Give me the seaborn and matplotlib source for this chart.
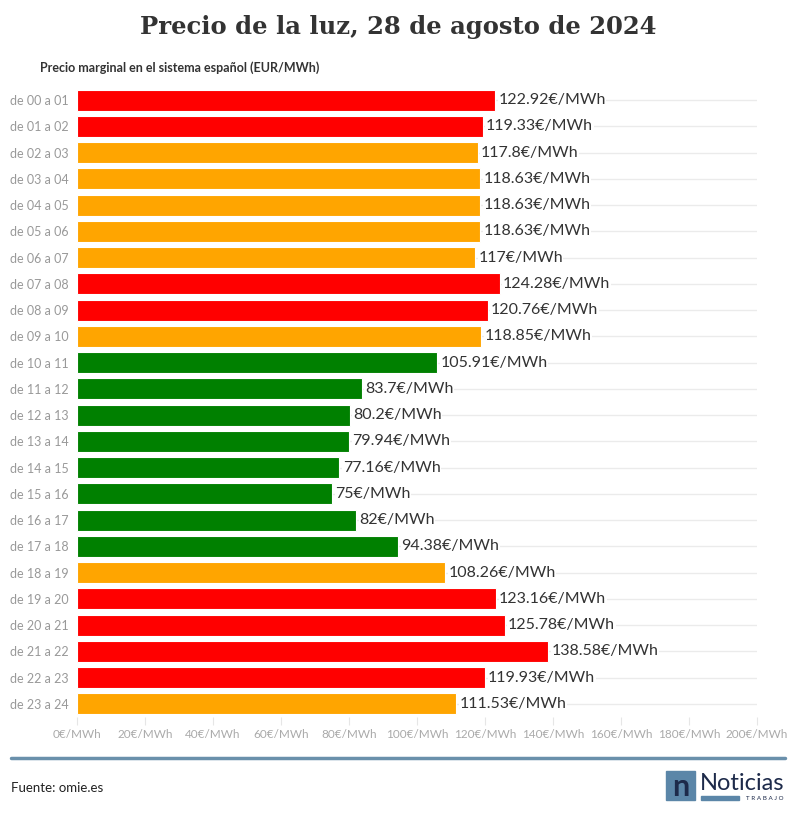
import matplotlib
matplotlib.use("Agg")
import matplotlib.pyplot as plt
import matplotlib.patches as mpatches
import seaborn as sns
import pandas as pd

# Datos
horas = [f"de {h:02d} a {h + 1:02d}" for h in range(24)]
precios = [122.92, 119.33, 117.8, 118.63, 118.63, 118.63, 117, 124.28, 120.76, 118.85,
           105.91, 83.7, 80.2, 79.94, 77.16, 75, 82, 94.38, 108.26, 123.16,
           125.78, 138.58, 119.93, 111.53]
niveles = ["alto", "alto", "medio", "medio", "medio", "medio", "medio", "alto", "alto", "medio",
           "bajo", "bajo", "bajo", "bajo", "bajo", "bajo", "bajo", "bajo", "medio", "alto",
           "alto", "alto", "alto", "medio"]
ticks_x = [0, 20, 40, 60, 80, 100, 120, 140, 160, 180, 200]

paleta = {"alto": "#ff0000", "medio": "#ffa500", "bajo": "#008000"}

df = pd.DataFrame({"hora": horas, "precio": precios, "nivel": niveles})

sns.set_style("white")
plt.rcParams["font.family"] = ["Lato", "DejaVu Sans"]

fig = plt.figure(figsize=(7.96, 8.17), dpi=100)
W, H = 796, 817
ax = fig.add_axes([77 / W, 1 - 717 / H, 680 / W, 630 / H])

# lineas guia horizontales
for i in range(len(horas)):
    ax.axhline(i, color="#ebebeb", lw=1, zorder=0)

sns.barplot(data=df, x="precio", y="hora", hue="nivel", palette=paleta, saturation=1,
            dodge=False, legend=False, width=0.8, edgecolor="white", linewidth=0.8,
            ax=ax, zorder=2)

for i, v in enumerate(precios):
    ax.text(v + 1, i, f"{v:g}€/MWh", va="center", ha="left", fontsize=11.5,
            color="#333333", zorder=3,
            bbox=dict(facecolor="white", edgecolor="none", pad=0.5))

ax.set_xlim(0, 200)
ax.set_ylim(len(horas) - 0.5, -0.5)
ax.set_xticks(ticks_x)
ax.set_xticklabels([f"{t}€/MWh" for t in ticks_x], fontsize=8.5, color="#aaaaaa")
ax.tick_params(axis="y", labelsize=9, colors="#999999", length=0, pad=6)
ax.tick_params(axis="x", length=6, color="#e6e6e6", pad=3, direction="out", bottom=True)
ax.set_xlabel("")
ax.set_ylabel("")
for s in ax.spines.values():
    s.set_visible(False)

# titulo y subtitulo
fig.text(398 / W, 1 - 27 / H, "Precio de la luz, 28 de agosto de 2024", ha="center", va="center",
         fontsize=17.5, fontweight="bold", color="#333333", family=["DejaVu Serif"])
fig.text(40 / W, 1 - 68 / H, "Precio marginal en el sistema español (EUR/MWh)", ha="left",
         va="center", fontsize=9, fontweight="bold", color="#333333")

# linea inferior y fuente
fig.add_artist(plt.Line2D([11 / W, 785 / W], [1 - 758 / H, 1 - 758 / H],
                          color="#6a90ab", lw=2.5))
fig.text(11 / W, 1 - 788 / H, "Fuente: omie.es", ha="left", va="center", fontsize=9.5,
         color="#222222")

# logo
fig.add_artist(mpatches.Rectangle((666 / W, 1 - 800 / H), 29 / W, 29 / H,
                                  transform=fig.transFigure, color="#5b86a8"))
fig.text(680.5 / W, 1 - 787 / H, "n", ha="center", va="center", fontsize=22,
         fontweight="bold", color="#1d2a4a")
fig.text(700 / W, 1 - 783 / H, "Noticias", ha="left", va="center", fontsize=17,
         color="#1d2a4a")
fig.add_artist(mpatches.Rectangle((701 / W, 1 - 800 / H), 38 / W, 4 / H,
                                  transform=fig.transFigure, color="#5b86a8"))
fig.text(784 / W, 1 - 798 / H, "T R A B A J O", ha="right", va="center", fontsize=4.5,
         color="#1d2a4a")

fig.savefig("out.png", dpi=100)
